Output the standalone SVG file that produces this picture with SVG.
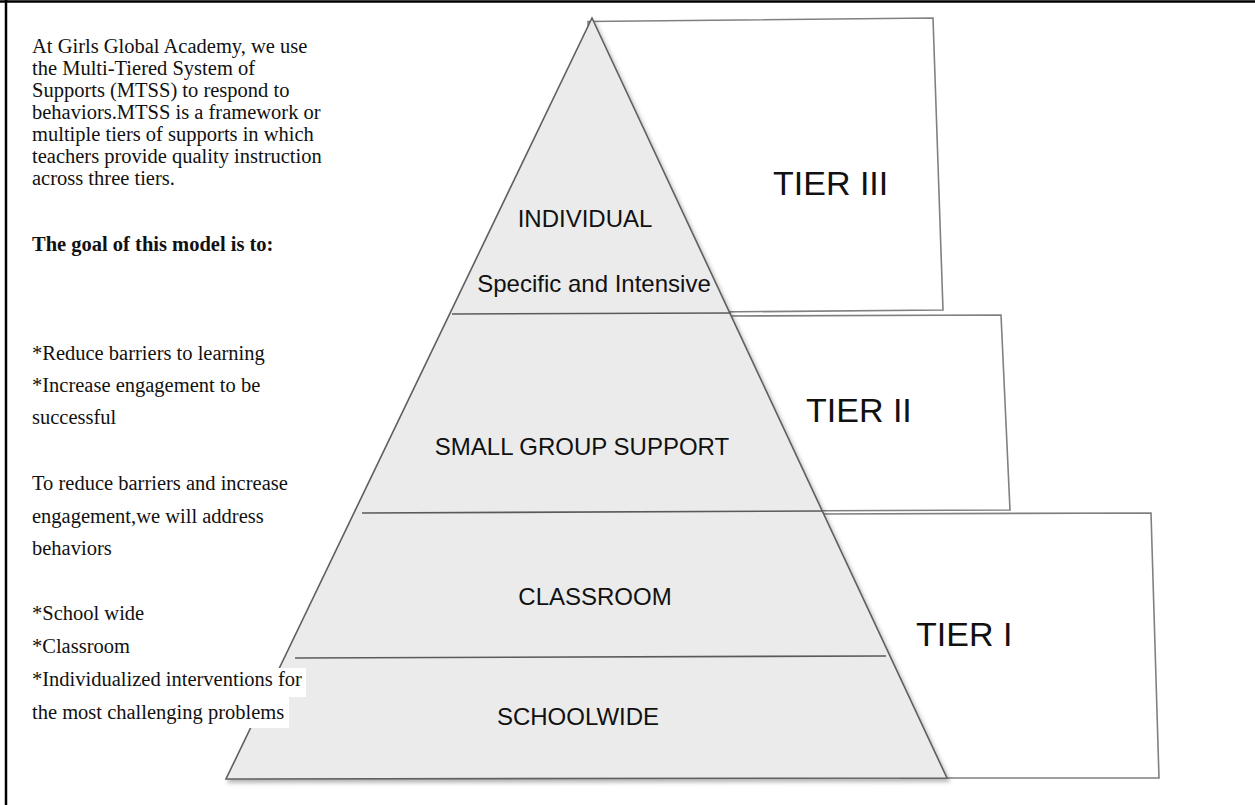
<svg xmlns="http://www.w3.org/2000/svg" width="1255" height="805" viewBox="0 0 1255 805">
<style>
.body{font-family:"Liberation Serif","Times New Roman",serif;font-size:20.5px;fill:#111}
.bold{font-weight:bold}
.lab{font-family:"Liberation Sans",Arial,sans-serif;font-size:24px;fill:#111;text-anchor:middle}
.tier{font-family:"Liberation Sans",Arial,sans-serif;font-size:34px;fill:#111}
.box{fill:#fff;stroke:#808080;stroke-width:1.6}
.div{stroke:#5a5a5a;stroke-width:1.6;fill:none}
</style>
<defs>
<filter id="sh" x="-5%" y="-5%" width="110%" height="110%">
<feDropShadow dx="2" dy="3" stdDeviation="2" flood-color="#000" flood-opacity="0.3"/>
</filter>
</defs>
<rect width="1255" height="805" fill="#fff"/>
<g id="frame" stroke="#000" stroke-width="2.5" fill="none">
<line x1="0" y1="1.5" x2="1255" y2="1.5"/>
<line x1="6" y1="0" x2="6" y2="805"/>
</g>
<g id="tier3-box"><polygon class="box" points="588,21.5 933,18 943,310 600,313"/>
<text class="tier" x="773" y="195">TIER III</text></g>
<g id="tier2-box"><polygon class="box" points="720,316 1001,315 1010,510 760,511"/>
<text class="tier" x="806" y="422">TIER II</text></g>
<g id="tier1-box"><polygon class="box" points="815,514 1151,513 1159,778 900,778"/>
<text class="tier" x="916" y="646">TIER I</text></g>
<g id="pyramid">
<polygon points="592,18 226,779 947,778" fill="#ebebeb" stroke="#5f5f5f" stroke-width="1.6" stroke-linejoin="miter" filter="url(#sh)"/>
</g>
<g id="dividers">
<line class="div" x1="452" y1="314" x2="731" y2="313"/>
<line class="div" x1="362" y1="513" x2="823" y2="511"/>
<line class="div" x1="295" y1="658" x2="886" y2="656"/>
</g>
<g id="tier-individual"><text class="lab" x="585" y="227">INDIVIDUAL</text>
<text class="lab" x="594" y="292">Specific and Intensive</text></g>
<g id="tier-small-group"><text class="lab" x="582" y="455">SMALL GROUP SUPPORT</text></g>
<g id="tier-classroom"><text class="lab" x="595" y="605">CLASSROOM</text></g>
<g id="tier-schoolwide"><text class="lab" x="578" y="725">SCHOOLWIDE</text></g>
<g id="description">
<rect x="30" y="668" width="276" height="29" fill="#fff"/>
<rect x="30" y="697" width="259" height="31" fill="#fff"/>
<text class="body" x="32" y="53">At Girls Global Academy, we use</text>
<text class="body" x="32" y="75">the Multi-Tiered System of</text>
<text class="body" x="32" y="97">Supports (MTSS) to respond to</text>
<text class="body" x="32" y="119">behaviors.MTSS is a framework or</text>
<text class="body" x="32" y="141">multiple tiers of supports in which</text>
<text class="body" x="32" y="163">teachers provide quality instruction</text>
<text class="body" x="32" y="185">across three tiers.</text>
<text class="body bold" x="32" y="251">The goal of this model is to:</text>
<text class="body" x="32" y="360">*Reduce barriers to learning</text>
<text class="body" x="32" y="392">*Increase engagement to be</text>
<text class="body" x="32" y="424">successful</text>
<text class="body" x="32" y="490">To reduce barriers and increase</text>
<text class="body" x="32" y="523">engagement,we will address</text>
<text class="body" x="32" y="555">behaviors</text>
<text class="body" x="32" y="620">*School wide</text>
<text class="body" x="32" y="653">*Classroom</text>
<text class="body" x="32" y="686">*Individualized interventions for</text>
<text class="body" x="32" y="719">the most challenging problems</text>
</g>
</svg>
